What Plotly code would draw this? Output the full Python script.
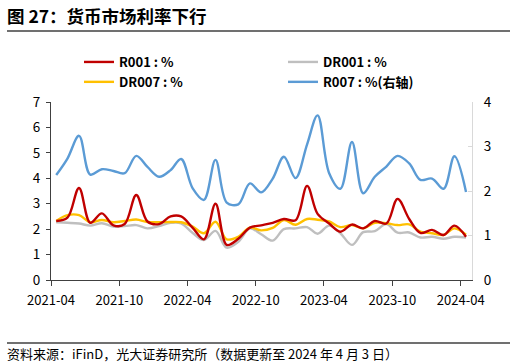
import plotly.graph_objects as go
import pandas as pd

dates = pd.date_range("2021-04-01", periods=37, freq="MS") + pd.Timedelta(days=14)
dates = [d.strftime("%Y-%m-%d") for d in dates]

r001 = [2.32, 2.45, 3.62, 2.25, 2.62, 2.15, 2.20, 3.34, 2.30, 2.20,
        2.50, 2.50, 2.05, 1.60, 3.00, 1.38, 1.62, 2.06, 2.15, 2.25,
        2.40, 2.35, 3.70, 2.60, 2.22, 1.90, 2.18, 2.03, 2.32, 2.22,
        3.19, 2.40, 1.85, 1.97, 1.77, 2.14, 1.70]
dr001 = [2.27, 2.25, 2.22, 2.14, 2.23, 2.10, 2.12, 2.16, 2.03, 2.12,
         2.25, 2.23, 1.85, 1.57, 1.93, 1.27, 1.50, 2.03, 1.80, 1.55,
         2.00, 2.03, 2.08, 1.82, 2.14, 1.84, 1.38, 1.88, 1.92, 2.20,
         1.86, 1.87, 1.67, 1.70, 1.62, 1.70, 1.67]
dr007 = [2.32, 2.55, 2.55, 2.27, 2.36, 2.27, 2.32, 2.38, 2.28, 2.27,
         2.28, 2.27, 2.10, 1.84, 2.29, 1.60, 1.70, 2.06, 1.95, 2.05,
         2.36, 2.17, 2.40, 2.37, 2.30, 2.08, 2.16, 2.03, 2.25, 2.23,
         2.16, 2.19, 1.90, 1.84, 1.77, 2.03, 1.78]
r007 = [2.36, 2.73, 3.24, 2.37, 2.49, 2.45, 2.40, 2.79, 2.54, 2.32,
        2.47, 2.72, 2.06, 1.80, 2.70, 1.74, 1.70, 2.17, 1.97, 2.28,
        2.77, 2.29, 3.05, 3.70, 2.40, 2.05, 3.10, 1.95, 2.32, 2.55,
        2.79, 2.62, 2.25, 2.28, 2.05, 2.78, 1.98]

left_ticks = [0, 1, 2, 3, 4, 5, 6, 7]
right_ticks = [0, 1, 2, 3, 4]

FONT = "Noto Sans CJK SC"
LW = 2.4

# plot area in pixels: x 51..472, y 102..280
def py(pix_y):
    return (280 - pix_y) / 178.0

def px(pix_x):
    return (pix_x - 51) / 421.0

fig = go.Figure()
fig.add_trace(go.Scatter(x=dates, y=dr001, name="DR001 : %", mode="lines",
                         line=dict(color="#BFBFBF", width=LW, shape="spline", smoothing=1),
                         legend="legend2"))
fig.add_trace(go.Scatter(x=dates, y=dr007, name="DR007 : %", mode="lines",
                         line=dict(color="#FFC000", width=LW, shape="spline", smoothing=1),
                         legend="legend", legendrank=2))
fig.add_trace(go.Scatter(x=dates, y=r001, name="R001 : %", mode="lines",
                         line=dict(color="#C00000", width=LW, shape="spline", smoothing=1),
                         legend="legend", legendrank=1))
fig.add_trace(go.Scatter(x=dates, y=r007, name="R007 : %(右轴)", mode="lines", yaxis="y2",
                         line=dict(color="#5B9BD5", width=LW, shape="spline", smoothing=1),
                         legend="legend2"))

legend_common = dict(orientation="v", yanchor="top", xanchor="left",
                     font=dict(family=FONT, size=13, color="#000000", weight="bold"),
                     bgcolor="rgba(0,0,0,0)", tracegroupgap=0, itemwidth=30)

fig.update_layout(
    width=516, height=364,
    margin=dict(l=51, r=44, t=102, b=84, autoexpand=False),
    paper_bgcolor="white", plot_bgcolor="white",
    font=dict(family=FONT, size=13, color="#000000"),
    showlegend=True,
    legend=dict(x=px(79), y=py(47), **legend_common),
    legend2=dict(x=px(283), y=py(47), **legend_common),
    xaxis=dict(
        type="date", range=["2021-04-01", "2024-05-01"],
        tick0="2021-04-01", dtick="M6", tickformat="%Y-%m",
        showgrid=False, zeroline=False,
        showline=True, linecolor="#404040", linewidth=1,
        ticks="outside", ticklen=5, tickcolor="#404040",
        ticklabelstandoff=3,
        tickfont=dict(family=FONT, size=13, color="#000000"),
    ),
    yaxis=dict(
        range=[0, 7], tickvals=left_ticks, showgrid=False, zeroline=False,
        showline=True, linecolor="#404040", linewidth=1,
        ticks="outside", ticklen=4, tickcolor="#404040",
        ticklabelstandoff=3,
        tickfont=dict(family=FONT, size=13.5, color="#000000"),
    ),
    yaxis2=dict(
        range=[0, 4], tickvals=right_ticks, overlaying="y", side="right",
        showgrid=False, zeroline=False,
        showline=True, linecolor="#D9D9D9", linewidth=1,
        ticks="inside", ticklen=4, tickcolor="#D9D9D9",
        tickfont=dict(family=FONT, size=13.5, color="#000000"),
        ticklabelstandoff=8,
    ),
)

fig.add_annotation(text="<b>图 27：货币市场利率下行</b>", xref="paper", yref="paper",
                   x=px(5), y=py(16), xanchor="left", yanchor="middle", showarrow=False,
                   font=dict(family=FONT, size=17.5, color="#000000"))
fig.add_annotation(text="资料来源：iFinD，光大证券研究所（数据更新至 2024 年 4 月 3 日）",
                   xref="paper", yref="paper", x=px(5), y=py(353),
                   xanchor="left", yanchor="middle", showarrow=False,
                   font=dict(family=FONT, size=13, color="#000000"))

# separator rules
fig.add_shape(type="line", xref="paper", yref="paper",
              x0=px(7), x1=px(510), y0=py(31), y1=py(31),
              line=dict(color="#404040", width=1.5))
fig.add_shape(type="line", xref="paper", yref="paper",
              x0=px(7), x1=px(510), y0=py(343), y1=py(343),
              line=dict(color="#404040", width=1.5))

fig.write_html("out.html", config={"displayModeBar": False},
               post_script="document.body.style.margin='0';document.body.style.padding='0';"
                           "document.documentElement.style.overflow='hidden';")
